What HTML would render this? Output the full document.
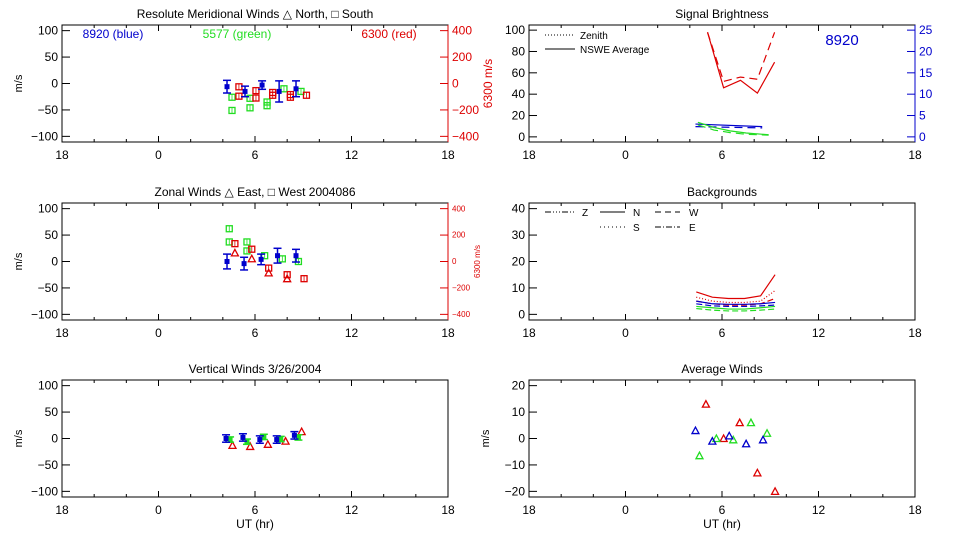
<!DOCTYPE html>
<html><head><meta charset="utf-8">
<style>
html,body{margin:0;padding:0;background:#fff;}
svg{display:block;font-family:"Liberation Sans",sans-serif;}
</style></head>
<body>
<svg id="chart" width="960" height="540" viewBox="0 0 960 540" xmlns="http://www.w3.org/2000/svg"></svg>
<script>
// ---- data (UT hours, values) ----
const xTickLabels = ['18','0','6','12','18'];
// Meridional winds
const merBlueUT = [4.26,5.38,6.44,7.5,8.55];
const merBlueV = [-6,-15,-3,-15,-10];
const merBlueErr = [12,10,8,20,15];
const merGreenUT = [4.57,4.57,5.69,5.69,6.75,6.75,7.8,8.86];
const merGreenV = [-26,-51,-28,-46,-35,-42,-10,-15];
const merRedUT = [5.0,5.0,6.06,6.06,7.1,7.1,8.2,8.2,9.2];
const merRedV = [-25,-96,-54,-110,-89,-68,-104,-84,-89];
// Zonal winds
const zonBlueUT = [4.26,5.32,6.38,7.4,8.55];
const zonBlueV = [0,-4,4,11,11];
const zonBlueErr = [14,12,10,14,12];
const zonGreenUT = [4.4,4.4,5.5,5.5,6.6,7.7,8.7];
const zonGreenV = [62,37,37,20,11,5,0];
const zonRedUT = [4.75,4.75,5.8,5.8,6.85,6.85,8.0,8.0,9.05];
const zonRedV = [135,65,93,21,-50,-86,-100,-130,-130];
// Vertical winds
const verBlueUT = [4.2,5.25,6.3,7.35,8.45];
const verBlueV = [0,2,-2,-2,6];
const verGreenUT = [4.45,5.5,6.55,7.6,8.7];
const verGreenV = [-2,-6,3,-1,2];
const verRedUT = [4.6,5.7,6.8,7.9,8.9];
const verRedV = [-13,-15,-11,-5,13];
// Signal brightness
const sigUT = [5.1,6.1,7.15,8.2,9.27];
const sigRedSolid = [98,46,53,41,70];
const sigRedDash = [98,52,56,54,98];
const sigBlueUT = [4.35,8.5];
const sigBlueSolid = [3.0,2.4];
const sigBlueDash = [2.4,2.1];
const sigGreenUT = [4.5,5.5,6.5,7.5,8.9];
const sigGreenSolid = [3.4,2.2,1.4,0.9,0.5];
const sigGreenDash = [2.8,1.6,1.0,0.6,0.4];
// Backgrounds
const bgUT = [4.4,5.4,6.4,7.4,8.4,9.3];
const bgRedN = [8.5,6.5,6,6,7,15];
const bgRedZ = [6.5,5,4.5,4.5,5,9];
const bgRedS = [5,4,3.5,3.5,4,6];
const bgBlue = [5,4,3.8,3.8,4,4.5];
const bgBlue2 = [4,3.2,3,3,3.2,3.5];
const bgGreen = [3,2.5,2,2,2.5,3];
const bgGreen2 = [2.2,1.6,1.3,1.3,1.6,2];
// Average winds
const avgRedUT = [5.0,6.1,7.1,8.2,9.3];
const avgRedV = [13,0,6,-13,-20];
const avgGreenUT = [4.6,5.65,6.7,7.8,8.8];
const avgGreenV = [-6.5,0,-0.5,6,2];
const avgBlueUT = [4.35,5.4,6.45,7.5,8.55];
const avgBlueV = [3,-1,1,-2,-0.5];

const NS='http://www.w3.org/2000/svg';
const svg=document.getElementById('chart');
const BLUE='#0000cc',GREEN='#22dd22',RED='#dd0000';
function el(tag,attrs,parent){const e=document.createElementNS(NS,tag);for(const k in attrs)e.setAttribute(k,attrs[k]);(parent||svg).appendChild(e);return e;}
function txt(x,y,s,anchor,fill,size,parent){const t=el('text',{x:x,y:y,'text-anchor':anchor||'middle',fill:fill||'#000','font-size':size||12},parent);t.textContent=s;return t;}

function makePanel(name,left,top,ymin,ymax,yticks,title){
  const w=386,h=117;
  const g=el('g',{});
  
  
  const xs=u=>{let hh=u<18?u+24:u;return left+(hh-18)/24*w;};
  const ys=v=>top+3+(ymax-v)/(ymax-ymin)*(h-6);
  el('rect',{x:left,y:top,width:w,height:h,fill:'none',stroke:'#000','stroke-width':1},g);
  for(let i=0;i<=12;i++){const x=left+i*w/12;const L=(i%3==0)?6:3;
    el('line',{x1:x,y1:top+h,x2:x,y2:top+h-L,stroke:'#000'},g);
    el('line',{x1:x,y1:top,x2:x,y2:top+L,stroke:'#000'},g);}
  xTickLabels.forEach((s,i)=>{const t=txt(left+i*w/4,top+h+17,s,'middle','#000',12,g);
    });
  yticks.forEach(v=>{const y=ys(v);el('line',{x1:left,y1:y,x2:left+8,y2:y,stroke:'#000'},g);
    const t=txt(left-4,y+4,String(v).replace('-','\u2212'),'end','#000',12,g);
    });
  const tt=txt(left+w/2,top-7,title,'middle','#000',12,g);
  
  return {g,xs,ys,left,top,w,h};
}
function rightAxis(p,rmin,rmax,ticks,color,size,label,off){
  const ys=v=>p.top+3+(rmax-v)/(rmax-rmin)*(p.h-6);
  el('line',{x1:p.left+p.w,y1:p.top,x2:p.left+p.w,y2:p.top+p.h,stroke:color},p.g);
  ticks.forEach(v=>{const y=ys(v);el('line',{x1:p.left+p.w-8,y1:y,x2:p.left+p.w,y2:y,stroke:color},p.g);
    const t=txt(p.left+p.w+4,y+size/3,String(v).replace('-','\u2212'),'start',color,size,p.g);
    });
  if(label){const cx=p.left+p.w+off,cy=p.top+p.h/2;
    const t=txt(cx,cy,label,'middle',color,size,p.g);t.setAttribute('transform','rotate(-90 '+cx+' '+cy+')');
    }
  return ys;
}
function ylabel(p,s){const cx=p.left-40,cy=p.top+p.h/2;const t=txt(cx,cy,s,'middle','#000',11,p.g);
  t.setAttribute('transform','rotate(-90 '+cx+' '+cy+')');}
function square(p,ys,ut,v,color){const x=p.xs(ut),y=ys(v);const r=el('rect',{x:x-3,y:y-3,width:6,height:6,fill:'none',stroke:color,'stroke-width':1.3},p.g);
  
  el('line',{x1:x,y1:y-3,x2:x,y2:y+3,stroke:color,'stroke-width':0.8},p.g);}
function tri(p,ys,ut,v,color){const x=p.xs(ut),y=ys(v);const t=el('polygon',{points:(x-3.5)+','+(y+3)+' '+(x+3.5)+','+(y+3)+' '+x+','+(y-3.5),fill:'none',stroke:color,'stroke-width':1.3},p.g);
  }
function errbar(p,ys,ut,v,e,color){const x=p.xs(ut),y1=ys(v+e),y2=ys(v-e);
  el('line',{x1:x,y1:y1,x2:x,y2:y2,stroke:color,'stroke-width':1.5},p.g);
  el('line',{x1:x-4,y1:y1,x2:x+4,y2:y1,stroke:color,'stroke-width':1.5},p.g);
  el('line',{x1:x-4,y1:y2,x2:x+4,y2:y2,stroke:color,'stroke-width':1.5},p.g);
  const r=el('rect',{x:x-2.5,y:ys(v)-2.5,width:5,height:5,fill:color},p.g);
  }
function line(p,ys,uts,vals,color,dash){const pts=uts.map((u,i)=>p.xs(u)+','+ys(vals[i])).join(' ');
  const l=el('polyline',{points:pts,fill:'none',stroke:color,'stroke-width':1.2},p.g);
  if(dash)l.setAttribute('stroke-dasharray',dash);
  }

const LX=62,RX=529,T1=25,T2=203,T3=380;
// Panel 1
let p=makePanel('meridional-panel',LX,T1,-105,105,[100,50,0,-50,-100],'Resolute Meridional Winds \u25B3 North, \u25A1 South');
ylabel(p,'m/s');
let ry=rightAxis(p,-420,420,[400,200,0,-200,-400],RED,12,'6300 m/s',44);
txt(113,38,'8920 (blue)','middle',BLUE,12,p.g);
txt(237,38,'5577 (green)','middle',GREEN,12,p.g);
txt(389,38,'6300 (red)','middle',RED,12,p.g);
merGreenUT.forEach((u,i)=>square(p,p.ys,u,merGreenV[i],GREEN));
merRedUT.forEach((u,i)=>square(p,ry,u,merRedV[i],RED));
merBlueUT.forEach((u,i)=>errbar(p,p.ys,u,merBlueV[i],merBlueErr[i],BLUE));
// Panel 2
p=makePanel('zonal-panel',LX,T2,-105,105,[100,50,0,-50,-100],'Zonal Winds \u25B3 East, \u25A1 West 2004086');
ylabel(p,'m/s');
ry=rightAxis(p,-420,420,[400,200,0,-200,-400],RED,8,'6300 m/s',32);
zonGreenUT.forEach((u,i)=>square(p,p.ys,u,zonGreenV[i],GREEN));
zonRedUT.forEach((u,i)=>(i%2?tri:square)(p,ry,u,zonRedV[i],RED));
zonBlueUT.forEach((u,i)=>errbar(p,p.ys,u,zonBlueV[i],zonBlueErr[i],BLUE));
// Panel 3
p=makePanel('vertical-panel',LX,T3,-105,105,[100,50,0,-50,-100],'Vertical Winds 3/26/2004');
ylabel(p,'m/s');
txt(255,528,'UT (hr)','middle','#000',12,p.g);
verRedUT.forEach((u,i)=>tri(p,p.ys,u,verRedV[i],RED));
verGreenUT.forEach((u,i)=>errbar(p,p.ys,u,verGreenV[i],5,GREEN));
verBlueUT.forEach((u,i)=>errbar(p,p.ys,u,verBlueV[i],7,BLUE));
// Right panel 1
p=makePanel('signal-brightness-panel',RX,T1,-2,102,[100,80,60,40,20,0],'Signal Brightness');
ry=rightAxis(p,-0.5,25.5,[25,20,15,10,5,0],BLUE,12,null,0);
txt(842,45,'8920','middle',BLUE,15,p.g);
el('line',{x1:545,y1:35,x2:575,y2:35,stroke:'#000','stroke-dasharray':'1,2'},p.g);
txt(580,39,'Zenith','start','#000',10,p.g);
el('line',{x1:545,y1:49,x2:575,y2:49,stroke:'#000'},p.g);
txt(580,53,'NSWE Average','start','#000',10,p.g);
line(p,p.ys,sigUT,sigRedSolid,RED);
line(p,p.ys,sigUT,sigRedDash,RED,'8,5');
line(p,ry,sigBlueUT,sigBlueSolid,BLUE);
line(p,ry,sigBlueUT,sigBlueDash,BLUE,'8,5');
line(p,ry,sigGreenUT,sigGreenSolid,GREEN);
line(p,ry,sigGreenUT,sigGreenDash,GREEN,'8,5');
// Right panel 2
p=makePanel('backgrounds-panel',RX,T2,-1,41,[40,30,20,10,0],'Backgrounds');
el('line',{x1:545,y1:212,x2:575,y2:212,stroke:'#000','stroke-dasharray':'6,2,1,2,1,2,1,2'},p.g);
txt(582,216,'Z','start','#000',10,p.g);
el('line',{x1:600,y1:212,x2:625,y2:212,stroke:'#000'},p.g);
txt(633,216,'N','start','#000',10,p.g);
el('line',{x1:655,y1:212,x2:680,y2:212,stroke:'#000','stroke-dasharray':'6,4'},p.g);
txt(689,216,'W','start','#000',10,p.g);
el('line',{x1:600,y1:227,x2:625,y2:227,stroke:'#000','stroke-dasharray':'1,3'},p.g);
txt(633,231,'S','start','#000',10,p.g);
el('line',{x1:655,y1:227,x2:680,y2:227,stroke:'#000','stroke-dasharray':'6,2,1,2'},p.g);
txt(689,231,'E','start','#000',10,p.g);
line(p,p.ys,bgUT,bgRedN,RED);
line(p,p.ys,bgUT,bgRedZ,RED,'1,2');
line(p,p.ys,bgUT,bgRedS,RED,'6,3');
line(p,p.ys,bgUT,bgBlue,BLUE);
line(p,p.ys,bgUT,bgBlue2,BLUE,'6,3');
line(p,p.ys,bgUT,bgGreen,GREEN);
line(p,p.ys,bgUT,bgGreen2,GREEN,'6,3');
// Right panel 3
p=makePanel('average-winds-panel',RX,T3,-21,21,[20,10,0,-10,-20],'Average Winds');
ylabel(p,'m/s');
txt(722,528,'UT (hr)','middle','#000',12,p.g);
avgRedUT.forEach((u,i)=>tri(p,p.ys,u,avgRedV[i],RED));
avgGreenUT.forEach((u,i)=>tri(p,p.ys,u,avgGreenV[i],GREEN));
avgBlueUT.forEach((u,i)=>tri(p,p.ys,u,avgBlueV[i],BLUE));
</script>
</body></html>
